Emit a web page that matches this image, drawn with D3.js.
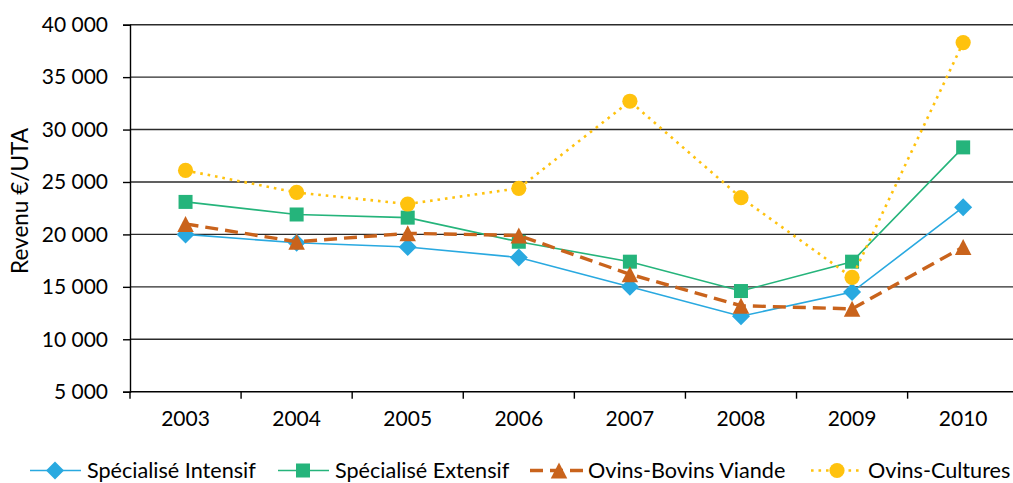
<!DOCTYPE html>
<html>
<head>
<meta charset="utf-8">
<script src="https://cdn.jsdelivr.net/npm/d3@7"></script>
<style>
  html, body { margin: 0; padding: 0; background: #fff; }
  svg { display: block; font-family: "Lato", "Open Sans", sans-serif; }
</style>
</head>
<body>
<svg id="chart" width="1013" height="483"></svg>
<script>
// Revenu par UTA selon le type d'exploitation ovine, 2003-2010
const years = ["2003", "2004", "2005", "2006", "2007", "2008", "2009", "2010"];
const specialiseIntensif = [20000, 19200, 18800, 17800, 15000, 12200, 14500, 22600];
const specialiseExtensif = [23100, 21900, 21600, 19300, 17400, 14600, 17400, 28300];
const ovinsBovinsViande  = [21000, 19300, 20100, 19900, 16200, 13200, 12900, 18800];
const ovinsCultures      = [26100, 24000, 22900, 24400, 32700, 23500, 15900, 38300];
const yTicks = [5000, 10000, 15000, 20000, 25000, 30000, 35000, 40000];
const seriesNames = ["Spécialisé Intensif", "Spécialisé Extensif", "Ovins-Bovins Viande", "Ovins-Cultures"];

const series = [
  { name: seriesNames[0], values: specialiseIntensif, color: "#29A9E0", width: 1.6, dash: null, marker: "diamond" },
  { name: seriesNames[1], values: specialiseExtensif, color: "#25B47B", width: 1.6, dash: null, marker: "square" },
  { name: seriesNames[2], values: ovinsBovinsViande,  color: "#C9631C", width: 3.4, dash: "13,7", marker: "triangle" },
  { name: seriesNames[3], values: ovinsCultures,      color: "#FFC20E", width: 2.6, dash: "2.6,4.9", marker: "circle" }
];

const svg = d3.select("#chart");
const plotLeft = 130, plotRight = 1018.7, plotTop = 24.7, plotBottom = 391.7;

const x = d3.scaleBand().domain(years).range([plotLeft, plotRight]).padding(0);
const y = d3.scaleLinear().domain([5000, 40000]).range([plotBottom, plotTop]);

const fmt = v => d3.format(",")(v).replace(/,/g, " ");

// horizontal gridlines
svg.append("g")
  .selectAll("line")
  .data(yTicks.filter(t => t > 5000))
  .join("line")
  .attr("x1", plotLeft).attr("x2", plotRight)
  .attr("y1", d => y(d)).attr("y2", d => y(d))
  .attr("stroke", "#2b2b2b").attr("stroke-width", 1.4);

// y axis
const yAxis = svg.append("g")
  .attr("transform", `translate(${plotLeft},0)`)
  .call(d3.axisLeft(y).tickValues(yTicks).tickFormat(fmt).tickSize(7).tickPadding(15));
yAxis.select(".domain").attr("stroke", "#000").attr("stroke-width", 1.4);
yAxis.selectAll(".tick line").attr("stroke", "#000").attr("stroke-width", 1.4);
yAxis.selectAll(".tick text").attr("font-size", 21).attr("fill", "#000")
  .attr("font-family", "Lato, sans-serif");

// x axis with ticks between the categories
const xAxisG = svg.append("g").attr("transform", `translate(0,${plotBottom})`);
xAxisG.append("line").attr("x1", plotLeft).attr("x2", plotRight)
  .attr("stroke", "#000").attr("stroke-width", 1.4);
const bounds = years.map(d => x(d)).concat([plotRight]);
xAxisG.selectAll("line.tk").data(bounds).join("line").attr("class", "tk")
  .attr("x1", d => d).attr("x2", d => d).attr("y1", 0).attr("y2", 7)
  .attr("stroke", "#000").attr("stroke-width", 1.4);
xAxisG.selectAll("text").data(years).join("text")
  .attr("x", d => x(d) + x.bandwidth() / 2)
  .attr("y", 34)
  .attr("text-anchor", "middle")
  .attr("font-size", 21)
  .attr("fill", "#000")
  .text(d => d);

// y axis title
svg.append("text")
  .attr("transform", `translate(28,201) rotate(-90)`)
  .attr("text-anchor", "middle")
  .attr("font-size", 22.5)
  .attr("fill", "#000")
  .text("Revenu €/UTA");

function drawMarker(g, type, cx, cy, color) {
  if (type === "diamond") {
    const r = 9;
    g.append("path").attr("d", `M${cx},${cy - r}L${cx + r},${cy}L${cx},${cy + r}L${cx - r},${cy}Z`).attr("fill", color);
  } else if (type === "square") {
    const s = 14;
    g.append("rect").attr("x", cx - s / 2).attr("y", cy - s / 2).attr("width", s).attr("height", s).attr("fill", color);
  } else if (type === "triangle") {
    const w = 16.5, h = 16;
    g.append("path").attr("d", `M${cx},${cy - h / 2}L${cx + w / 2},${cy + h / 2}L${cx - w / 2},${cy + h / 2}Z`).attr("fill", color);
  } else {
    g.append("circle").attr("cx", cx).attr("cy", cy).attr("r", 7.6).attr("fill", color);
  }
}

const line = d3.line()
  .x((d, i) => x(years[i]) + x.bandwidth() / 2)
  .y(d => y(d));

series.forEach(s => {
  const g = svg.append("g");
  g.append("path")
    .attr("d", line(s.values))
    .attr("fill", "none")
    .attr("stroke", s.color)
    .attr("stroke-width", s.width)
    .attr("stroke-dasharray", s.dash);
  s.values.forEach((v, i) => drawMarker(g, s.marker, x(years[i]) + x.bandwidth() / 2, y(v), s.color));
});

// legend
const legendY = 470.5;
const legendItems = [
  { x0: 30, x1: 81, mx: 55, tx: 87 },
  { x0: 278, x1: 329, mx: 303, tx: 335 },
  { x0: 530, x1: 586, mx: 559, tx: 588 },
  { x0: 811, x1: 859, mx: 837, tx: 868 }
];
series.forEach((s, i) => {
  const it = legendItems[i];
  const g = svg.append("g");
  g.append("line")
    .attr("x1", it.x0).attr("x2", it.x1)
    .attr("y1", legendY).attr("y2", legendY)
    .attr("stroke", s.color)
    .attr("stroke-width", s.width)
    .attr("stroke-dasharray", s.dash);
  drawMarker(g, s.marker, it.mx, legendY, s.color);
  g.append("text")
    .attr("x", it.tx).attr("y", legendY)
    .attr("dy", "0.36em")
    .attr("font-size", 21.6)
    .attr("fill", "#000")
    .text(s.name);
});
</script>
</body>
</html>
